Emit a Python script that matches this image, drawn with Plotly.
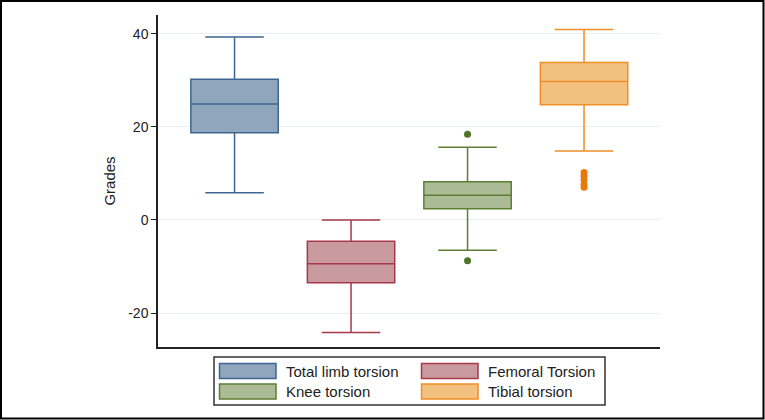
import plotly.graph_objects as go

# ---- data ----
names = ["Total limb torsion", "Femoral Torsion", "Knee torsion", "Tibial torsion"]
positions = [1, 2, 3, 4]
lower_whisker = [5.8, -24.2, -6.5, 14.8]
q1 = [18.7, -13.5, 2.4, 24.7]
median = [24.9, -9.4, 5.3, 29.7]
q3 = [30.2, -4.6, 8.2, 33.8]
upper_whisker = [39.3, 0.0, 15.6, 40.9]
outliers = [[], [], [18.4, -8.8], [10.2, 9.4, 8.6, 7.6, 7.0]]
y_ticks = [-20, 0, 20, 40]
y_tick_labels = ["-20", "0", "20", "40"]

# ---- styles ----
line_colors = ["#3e6690", "#a7394b", "#5d7f34", "#ef8f25"]
fill_colors = ["#8fa6bc", "#c99aa0", "#abbb96", "#f2c07f"]
out_colors = ["#3e6690", "#a7394b", "#4e7428", "#e8790c"]
FONT = "Liberation Sans, Arial, sans-serif"

fig = go.Figure()
for i, nm in enumerate(names):
    fig.add_trace(go.Box(
        name=nm, x=[positions[i]],
        q1=[q1[i]], median=[median[i]], q3=[q3[i]],
        lowerfence=[lower_whisker[i]], upperfence=[upper_whisker[i]],
        width=0.75, whiskerwidth=0.67,
        fillcolor=fill_colors[i], line=dict(color=line_colors[i], width=1.5),
        boxpoints=False, showlegend=False, hoverinfo="skip",
    ))
    if outliers[i]:
        fig.add_trace(go.Scatter(
            x=[positions[i]] * len(outliers[i]), y=outliers[i], mode="markers",
            marker=dict(color=out_colors[i], size=7), showlegend=False, hoverinfo="skip",
        ))

# ---- manual legend (Stata style) ----
W, H = 765, 420
ml, mr, mt, mb = 158, 105, 15, 73
pw, ph = W - ml - mr, H - mt - mb


def px2x(p):
    return (p - ml) / pw


def px2y(p):
    return (H - mb - p) / ph


shapes = []
# outer frame
shapes.append(dict(type="rect", xref="paper", yref="paper",
                   x0=px2x(1), x1=px2x(763.5), y0=px2y(1), y1=px2y(418.5),
                   line=dict(color="black", width=2), fillcolor="rgba(0,0,0,0)", layer="below"))
# legend box
shapes.append(dict(type="rect", xref="paper", yref="paper",
                   x0=px2x(214), x1=px2x(605), y0=px2y(357), y1=px2y(405),
                   line=dict(color="#333333", width=1.5), fillcolor="white"))
col_sym = [219.5, 421.5]
col_txt = [284, 486]
row_top = [363.5, 384]
annotations = []
for i, nm in enumerate(names):
    r, c = divmod(i, 2)
    shapes.append(dict(type="rect", xref="paper", yref="paper",
                       x0=px2x(col_sym[c]), x1=px2x(col_sym[c] + 56.5),
                       y0=px2y(row_top[r]), y1=px2y(row_top[r] + 15),
                       line=dict(color=line_colors[i], width=1.5), fillcolor=fill_colors[i]))
    annotations.append(dict(xref="paper", yref="paper", x=px2x(col_txt[c]),
                            y=px2y(row_top[r] + 7.5), text=nm, showarrow=False,
                            xanchor="left", yanchor="middle",
                            font=dict(family=FONT, size=15, color="#222222")))

fig.update_layout(
    width=W, height=H,
    margin=dict(l=ml, r=mr, t=mt, b=mb),
    paper_bgcolor="white", plot_bgcolor="white",
    boxmode="overlay",
    font=dict(family=FONT, size=14, color="#222222"),
    shapes=shapes, annotations=annotations,
    xaxis=dict(range=[0.343, 4.652], showticklabels=False, showgrid=False,
               zeroline=False, showline=True, linecolor="#222222", linewidth=1.5,
               ticks=""),
    yaxis=dict(range=[-27.3, 44], tickvals=y_ticks, ticktext=y_tick_labels,
               ticks="outside", ticklen=5, tickwidth=1.3, tickcolor="#222222",
               showline=True, linecolor="#222222", linewidth=1.5,
               showgrid=True, gridcolor="#e8f0f3", gridwidth=1.2, zeroline=False,
               tickfont=dict(family=FONT, size=14, color="#222222"),
               title=dict(text="Grades", standoff=9,
                          font=dict(family=FONT, size=15, color="#222222"))),
)

fig.write_html("out.html", config={"displayModeBar": False},
               post_script="document.body.style.margin='0';document.body.style.overflow='hidden';")
